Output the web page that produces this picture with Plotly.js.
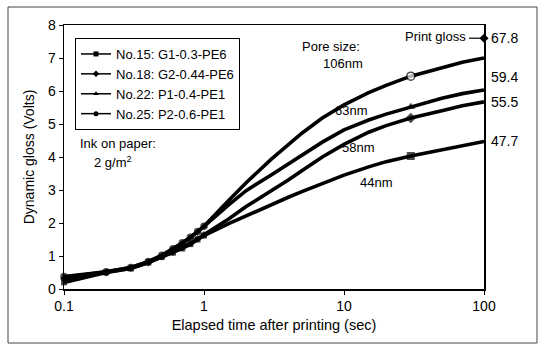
<!DOCTYPE html>
<html>
<head>
<meta charset="utf-8">
<script src="https://cdn.plot.ly/plotly-3.0.1.min.js"></script>
<style>html,body{margin:0;padding:0;background:#fff;}#chart{width:538px;height:345px;}</style>
</head>
<body>
<div id="chart"></div>
<script>
// Elapsed time after printing (sec)
const times = [0.1,0.2,0.3,0.4,0.5,0.6,0.7,0.8,0.9,1.0,1.5,2,3,4,5,7,10,15,20,30,50,70,100];
// Dynamic gloss (Volts)
const no15 = [0.20,0.50,0.62,0.80,0.97,1.10,1.23,1.36,1.50,1.62,1.98,2.22,2.55,2.78,2.95,3.20,3.45,3.70,3.86,4.03,4.22,4.36,4.47]; // 44nm
const no18 = [0.30,0.50,0.63,0.80,0.98,1.12,1.25,1.38,1.52,1.64,2.12,2.50,2.95,3.30,3.58,4.00,4.38,4.75,4.95,5.18,5.40,5.55,5.67]; // 58nm
const no22 = [0.35,0.52,0.65,0.83,1.02,1.20,1.38,1.56,1.73,1.90,2.55,2.98,3.45,3.80,4.05,4.45,4.82,5.12,5.30,5.52,5.78,5.92,6.03]; // 63nm
const no25 = [0.38,0.52,0.65,0.83,1.02,1.22,1.40,1.57,1.74,1.90,2.68,3.22,3.92,4.38,4.72,5.18,5.58,5.95,6.17,6.45,6.72,6.87,7.00]; // 106nm
const seriesNames = ["No.15: G1-0.3-PE6","No.18: G2-0.44-PE6","No.22: P1-0.4-PE1","No.25: P2-0.6-PE1"];
const poreLabels = ["106nm","63nm","58nm","44nm"];
const printGlossLabels = ["67.8","59.4","55.5","47.7"];
const printGlossLevel = 7.6;
const tickVals = [0.1,1,10,100];
const tickText = ["0.1","1","10","100"];

const FONT = "Liberation Sans, Arial, sans-serif";
const symbols = ["square","diamond","triangle-up","circle"];
const allSeries = [no15,no18,no22,no25];

const traces = allSeries.map((ys,i)=>({
  x: times, y: ys, name: seriesNames[i], type: "scatter", mode: "lines+markers",
  showlegend: false,
  line: {color: "#000", width: 3.6},
  marker: {
    color: times.map(t => (i === 3 && t === 30) ? "#fff" : "#000"),
    line: {color: "#000", width: i === 3 ? 1.5 : 0},
    size: times.map(t => t <= 1 ? 6 : (t === 30 ? 8 : 0)),
    symbol: symbols[i]
  },
  cliponaxis: false
}));
// legend entries (thin line + small marker, as in the original legend)
seriesNames.forEach((nm,i)=>{
  traces.push({
    x: [null], y: [null], name: nm, type: "scatter", mode: "lines+markers",
    line: {color: "#000", width: 1.5},
    marker: {color: "#000", size: 5, symbol: symbols[i]},
    hoverinfo: "skip"
  });
});
// print gloss arrow head at right axis
traces.push({
  x: [100], y: [printGlossLevel], type: "scatter", mode: "markers", showlegend: false,
  marker: {color: "#000", size: 7, symbol: "diamond"}, cliponaxis: false, hoverinfo: "skip"
});

const L = 64, R = 54, T = 25, B = 56, W = 538, H = 345;
const pw = W - L - R, ph = H - T - B;
const px2x = p => (p - L) / pw;
const py2y = p => (H - B - p) / ph;

const ann = (text, xpx, ypx, size) => ({
  text: text, xref: "paper", yref: "paper", x: px2x(xpx), y: py2y(ypx),
  xanchor: "left", yanchor: "middle", showarrow: false,
  font: {family: FONT, size: size || 13, color: "#000"}
});

const annotations = [
  ann("Ink on paper:", 78, 143),
  ann("2 g/m<sup>2</sup>", 92, 162),
  ann("Pore size:", 300, 46),
  ann(poreLabels[0], 321, 64),
  ann(poreLabels[1], 333, 110),
  ann(poreLabels[2], 340, 147),
  ann(poreLabels[3], 358, 182),
  ann("Print gloss", 403, 37),
  ann(printGlossLabels[0], 489, 38, 14),
  ann(printGlossLabels[1], 489, 77, 14),
  ann(printGlossLabels[2], 489, 102, 14),
  ann(printGlossLabels[3], 489, 141, 14)
];

const shapes = [
  {type: "line", xref: "paper", yref: "y", x0: px2x(469), x1: 1, y0: printGlossLevel, y1: printGlossLevel,
   line: {color: "#000", width: 1.2}},
  {type: "rect", xref: "paper", yref: "paper", x0: px2x(8), x1: px2x(537), y0: py2y(343), y1: py2y(7),
   line: {color: "#444", width: 1}}
];

const layout = {
  width: W, height: H,
  margin: {l: L, r: R, t: T, b: B, pad: 0},
  paper_bgcolor: "#fff", plot_bgcolor: "#fff",
  font: {family: FONT, size: 13, color: "#000"},
  showlegend: true,
  legend: {
    x: px2x(75), y: py2y(38), xanchor: "left", yanchor: "top",
    bordercolor: "#000", borderwidth: 1, bgcolor: "#fff",
    font: {family: FONT, size: 13, color: "#000"},
    itemwidth: 30, tracegroupgap: 0
  },
  xaxis: {
    type: "log", range: [-1, 2], tickvals: tickVals, ticktext: tickText,
    showgrid: false, zeroline: false, showline: true, linecolor: "#000", linewidth: 1.5, mirror: true,
    ticks: "outside", ticklen: 4, tickcolor: "#000",
    tickfont: {family: FONT, size: 14, color: "#000"},
    title: {text: "Elapsed time after printing (sec)", font: {family: FONT, size: 14.5, color: "#000"}, standoff: 6}
  },
  yaxis: {
    range: [0, 8], dtick: 1, tick0: 0,
    showgrid: false, zeroline: false, showline: true, linecolor: "#000", linewidth: 1.5, mirror: true,
    ticks: "outside", ticklen: 4, tickcolor: "#000",
    tickfont: {family: FONT, size: 14, color: "#000"},
    title: {text: "Dynamic gloss (Volts)", font: {family: FONT, size: 14, color: "#000"}, standoff: 10}
  },
  annotations: annotations,
  shapes: shapes
};

Plotly.newPlot("chart", traces, layout, {displayModeBar: false, staticPlot: true});
</script>
</body>
</html>
